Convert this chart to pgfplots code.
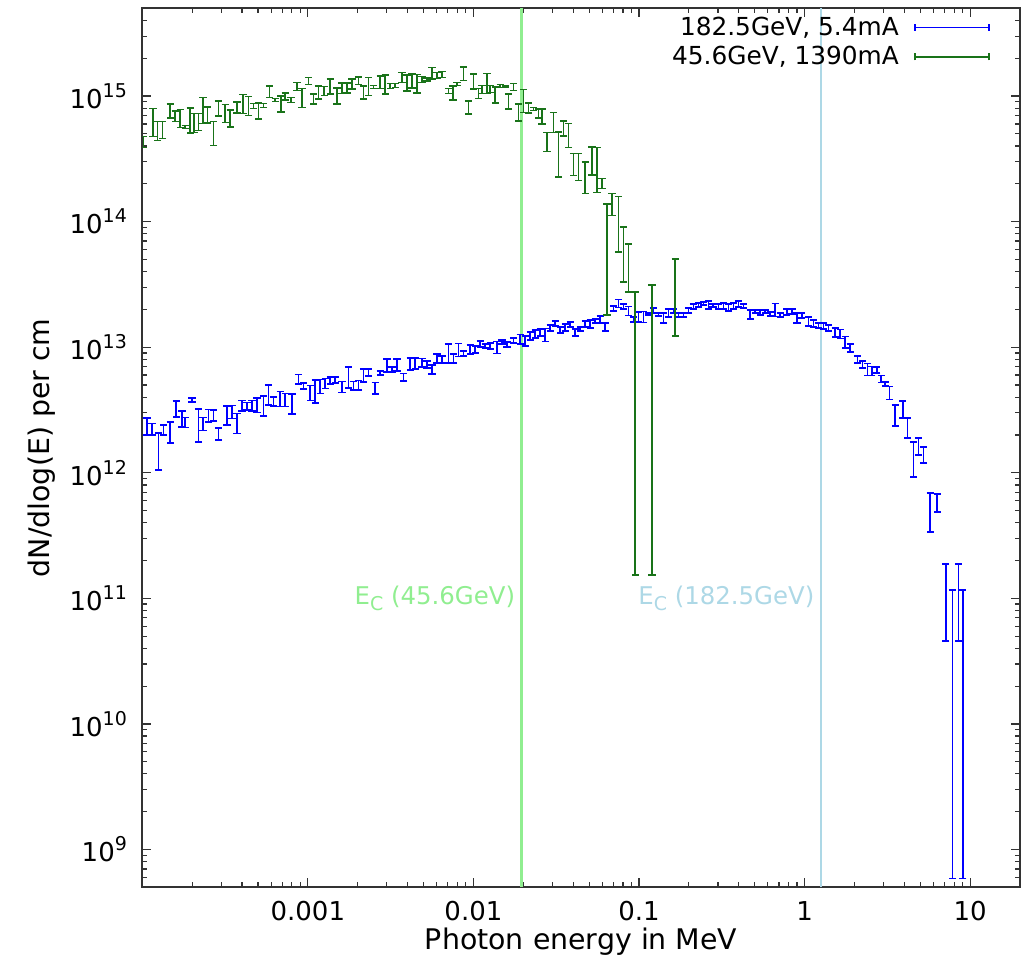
\documentclass[border=0pt]{standalone}
\usepackage{fontspec}
\setmainfont{DejaVu Sans}
\usepackage{pgfplots}
\pgfplotsset{compat=1.18}
\usepackage{pgfplotstable}
\definecolor{bluec}{RGB}{0,0,255}
\definecolor{greenc}{RGB}{25,115,25}
\definecolor{lgreen}{RGB}{144,238,144}
\definecolor{lblue}{RGB}{173,216,230}
\newcommand{\tp}[1]{10\raisebox{0.42em}{\fontsize{9.5}{9.5}\selectfont #1}}

\pgfplotstableread{
x y r
1.067e-4 2.36e12 0.154
1.144e-4 2.23e12 0.109
1.254e-4 1.56e12 0.326
1.345e-4 2.19e12 0.091
1.476e-4 2.13e12 0.190
1.604e-4 3.24e12 0.145
1.737e-4 2.71e12 0.145
1.818e-4 2.53e12 0.091
1.996e-4 3.79e12 0.037
2.188e-4 2.48e12 0.293
2.326e-4 2.46e12 0.118
2.514e-4 2.86e12 0.118
2.695e-4 2.86e12 0.100
2.889e-4 2.04e12 0.109
3.247e-4 2.90e12 0.172
3.481e-4 3.07e12 0.118
3.731e-4 2.51e12 0.181
4.000e-4 3.43e12 0.100
4.288e-4 3.39e12 0.073
4.597e-4 3.43e12 0.100
4.928e-4 3.49e12 0.136
5.401e-4 3.45e12 0.181
5.790e-4 4.22e12 0.181
6.207e-4 3.69e12 0.082
6.812e-4 3.90e12 0.136
7.304e-4 3.82e12 0.118
8.017e-4 3.61e12 0.181
8.787e-4 5.57e12 0.091
9.419e-4 4.90e12 0.055
1.034e-3 4.35e12 0.136
1.108e-3 4.52e12 0.208
1.188e-3 4.90e12 0.127
1.274e-3 5.17e12 0.091
1.366e-3 5.44e12 0.064
1.464e-3 5.49e12 0.055
1.606e-3 4.85e12 0.100
1.761e-3 5.82e12 0.190
1.888e-3 4.94e12 0.082
2.024e-3 4.99e12 0.091
2.170e-3 5.97e12 0.118
2.326e-3 6.29e12 0.064
2.553e-3 4.73e12 0.109
2.736e-3 6.22e12 0.037
3.004e-3 7.19e12 0.118
3.220e-3 6.63e12 0.046
3.451e-3 7.25e12 0.109
3.784e-3 5.77e12 0.073
4.153e-3 7.39e12 0.109
4.453e-3 7.45e12 0.100
4.887e-3 7.53e12 0.082
5.239e-3 7.30e12 0.064
5.616e-3 6.63e12 0.082
6.021e-3 8.12e12 0.082
6.454e-3 7.97e12 0.064
7.072e-3 9.03e12 0.172
7.582e-3 8.12e12 0.082
8.128e-3 9.57e12 0.118
8.713e-3 8.90e12 0.046
9.565e-3 9.57e12 0.082
1.025e-2 9.60e12 0.064
1.099e-2 1.058e13 0.055
1.178e-2 1.02e13 0.037
1.263e-2 1.02e13 0.055
1.387e-2 1.00e13 0.109
1.486e-2 1.098e13 0.037
1.594e-2 1.05e13 0.046
1.746e-2 1.13e13 0.046
1.917e-2 1.16e13 0.091
2.055e-2 1.12e13 0.091
2.203e-2 1.23e13 0.073
2.362e-2 1.27e13 0.073
2.532e-2 1.31e13 0.064
2.714e-2 1.26e13 0.118
2.910e-2 1.42e13 0.055
3.119e-2 1.54e13 0.046
3.344e-2 1.37e13 0.055
3.584e-2 1.43e13 0.064
3.842e-2 1.51e13 0.046
4.119e-2 1.31e13 0.064
4.415e-2 1.39e13 0.037
4.732e-2 1.53e13 0.055
5.073e-2 1.53e13 0.073
5.438e-2 1.61e13 0.037
5.830e-2 1.66e13 0.064
6.250e-2 1.45e13 0.073
7.015e-2 2.03e13 0.046
7.518e-2 2.24e13 0.073
8.060e-2 2.10e13 0.046
8.640e-2 1.95e13 0.082
9.264e-2 1.66e13 0.046
9.931e-2 1.74e13 0.091
0.1065 1.75e13 0.100
0.1141 1.83e13 0.018
0.1223 1.95e13 0.046
0.1312 1.82e13 0.027
0.1406 1.71e13 0.091
0.1507 1.87e13 0.073
0.1616 1.94e13 0.037
0.1732 1.80e13 0.037
0.1857 1.80e13 0.037
0.1991 1.95e13 0.046
0.2134 2.10e13 0.046
0.2288 2.17e13 0.037
0.2452 2.22e13 0.027
0.2629 2.17e13 0.073
0.2795 2.15e13 0.027
0.3021 2.10e13 0.046
0.3239 2.12e13 0.055
0.3472 2.07e13 0.064
0.3722 2.12e13 0.055
0.3990 2.20e13 0.055
0.4276 2.12e13 0.037
0.4694 1.82e13 0.082
0.5032 1.92e13 0.027
0.5394 1.88e13 0.046
0.5783 1.92e13 0.027
0.6199 1.83e13 0.037
0.6645 1.99e13 0.118
0.7124 1.80e13 0.037
0.7820 1.90e13 0.055
0.8383 1.92e13 0.046
0.8987 1.71e13 0.091
0.9632 1.78e13 0.046
1.056 1.60e13 0.082
1.132 1.54e13 0.064
1.213 1.49e13 0.046
1.301 1.47e13 0.055
1.394 1.42e13 0.055
1.530 1.31e13 0.082
1.641 1.28e13 0.082
1.759 1.10e13 0.109
1.885 9.84e12 0.073
2.087 7.97e12 0.064
2.237 7.27e12 0.064
2.398 6.69e12 0.109
2.549 6.50e12 0.082
2.733 6.56e12 0.055
2.901 5.60e12 0.064
3.067 5.08e12 0.037
3.257 4.35e12 0.118
3.525 2.91e12 0.190
3.923 3.22e12 0.154
4.182 2.31e12 0.181
4.546 1.34e12 0.310
4.874 1.64e12 0.154
5.224 1.40e12 0.145
5.735 5.15e11 0.342
6.320 5.83e11 0.163
7.135 1.17e11 0.607
7.818 5.87e10 0.990
8.499 1.17e11 0.607
9.035 5.87e10 0.990
}\bluedata

\pgfplotstableread{
x y r
1.018e-4 4.32e14 0.100
1.160e-4 6.37e14 0.251
1.237e-4 5.36e14 0.172
1.326e-4 5.43e14 0.154
1.476e-4 7.68e14 0.127
1.582e-4 6.95e14 0.100
1.696e-4 6.72e14 0.163
1.818e-4 5.68e14 0.027
1.949e-4 6.52e14 0.225
2.061e-4 6.20e14 0.172
2.188e-4 6.30e14 0.154
2.326e-4 7.90e14 0.234
2.479e-4 7.13e14 0.145
2.695e-4 5.16e14 0.216
2.889e-4 8.04e14 0.136
3.171e-4 7.37e14 0.163
3.400e-4 6.70e14 0.154
3.731e-4 8.19e14 0.100
4.056e-4 8.78e14 0.172
4.385e-4 8.47e14 0.172
4.700e-4 8.34e14 0.046
5.039e-4 7.68e14 0.145
5.401e-4 8.42e14 0.037
5.870e-4 1.09e15 0.109
6.355e-4 9.31e14 0.027
6.881e-4 8.73e14 0.145
7.304e-4 1.00e15 0.064
7.906e-4 9.31e14 0.046
8.595e-4 1.195e15 0.073
9.213e-4 9.80e14 0.172
1.0098e-3 1.32e15 0.064
1.082e-3 9.57e14 0.091
1.160e-3 1.08e15 0.118
1.256e-3 1.10e15 0.082
1.366e-3 1.205e15 0.136
1.498e-3 1.013e15 0.145
1.606e-3 1.162e15 0.100
1.722e-3 1.17e15 0.091
1.846e-3 1.26e15 0.091
2.024e-3 1.33e15 0.073
2.170e-3 1.08e15 0.118
2.326e-3 1.21e15 0.163
2.493e-3 1.18e15 0.027
2.736e-3 1.30e15 0.118
2.934e-3 1.25e15 0.172
3.145e-3 1.205e15 0.046
3.372e-3 1.215e15 0.037
3.700e-3 1.41e15 0.091
3.967e-3 1.285e15 0.145
4.252e-3 1.33e15 0.127
4.558e-3 1.27e15 0.172
4.887e-3 1.36e15 0.055
5.239e-3 1.35e15 0.027
5.616e-3 1.52e15 0.109
6.021e-3 1.46e15 0.055
6.454e-3 1.49e15 0.055
7.072e-3 1.10e15 0.046
7.518e-3 1.07e15 0.127
7.948e-3 1.25e15 0.027
8.713e-3 1.52e15 0.127
9.341e-3 8.19e14 0.118
1.0014e-2 1.32e15 0.136
1.074e-2 1.05e15 0.091
1.125e-2 1.13e15 0.073
1.206e-2 1.28e15 0.181
1.263e-2 1.14e15 0.064
1.354e-2 1.03e15 0.145
1.452e-2 1.205e15 0.027
1.556e-2 1.195e15 0.018
1.629e-2 9.15e14 0.136
1.746e-2 1.18e15 0.064
1.872e-2 7.47e14 0.154
2.007e-2 9.35e14 0.208
2.151e-2 8.11e14 0.091
2.307e-2 7.89e14 0.027
2.473e-2 7.33e14 0.082
2.593e-2 6.95e14 0.136
2.780e-2 4.38e14 0.172
3.045e-2 6.27e14 0.181
3.265e-2 3.70e14 0.390
3.500e-2 5.58e14 0.136
3.752e-2 4.97e14 0.216
4.022e-2 2.91e14 0.199
4.312e-2 2.81e14 0.243
4.732e-2 2.32e14 0.279
5.196e-2 3.13e14 0.251
5.570e-2 2.80e14 0.390
5.970e-2 2.02e14 0.091
6.400e-2 7.78e13 0.768
6.861e-2 1.40e14 0.199
7.518e-2 1.08e14 0.471
8.060e-2 6.17e13 0.465
8.640e-2 4.69e13 0.413
9.486e-2 1.383e13 0.9889
0.1197 1.572e13 0.9902
0.1654 3.13e13 0.608
}\greendata

\begin{document}
\begin{tikzpicture}
\begin{axis}[
  scale only axis,
  width=438.85pt, height=439.5pt,
  xmode=log, ymode=log,
  xmin=1e-4, xmax=20, ymin=5e8, ymax=5e15,
  xtick={0.001,0.01,0.1,1,10},
  xticklabels={0.001,0.01,0.1,1,10},
  ytick={1e9,1e10,1e11,1e12,1e13,1e14,1e15},
  yticklabels={\tp{9},\tp{10},\tp{11},\tp{12},\tp{13},\tp{14},\tp{15}},
  minor xtick={2e-4,3e-4,4e-4,5e-4,6e-4,7e-4,8e-4,9e-4,2e-3,3e-3,4e-3,5e-3,6e-3,7e-3,8e-3,9e-3,0.02,0.03,0.04,0.05,0.06,0.07,0.08,0.09,0.2,0.3,0.4,0.5,0.6,0.7,0.8,0.9,2,3,4,5,6,7,8,9},
  minor ytick={6e8,7e8,8e8,9e8,2e9,3e9,4e9,5e9,6e9,7e9,8e9,9e9,2e10,3e10,4e10,5e10,6e10,7e10,8e10,9e10,2e11,3e11,4e11,5e11,6e11,7e11,8e11,9e11,2e12,3e12,4e12,5e12,6e12,7e12,8e12,9e12,2e13,3e13,4e13,5e13,6e13,7e13,8e13,9e13,2e14,3e14,4e14,5e14,6e14,7e14,8e14,9e14,2e15,3e15,4e15},
  tick align=inside,
  major tick length=4.5pt, minor tick length=2.5pt,
  every tick/.style={black!80, line width=0.6pt},
  axis line style={black!80, line width=0.9pt},
  tick label style={font=\fontsize{13}{13}\selectfont},
  xticklabel style={anchor=north, inner sep=0pt, yshift=-7pt},
  yticklabel style={anchor=east, inner sep=0pt, xshift=-7.5pt},
  xlabel={Photon energy in MeV},
  ylabel={dN/dlog(E) per cm},
  label style={font=\fontsize{14.2}{15}\selectfont},
  xlabel style={at={(axis description cs:0.5,0)}, anchor=base, yshift=-31pt},
  ylabel style={at={(axis description cs:-0.1062,0.5)}, anchor=base},
  legend style={draw=none, fill=none, at={(axis description cs:1,1)}, anchor=north east, xshift=-12pt, yshift=0pt, font=\fontsize{12.4}{13}\selectfont, row sep=0pt, /tikz/every even column/.append style={column sep=6pt}},
  legend cell align=right,
  legend plot pos=right,
]
\addplot[lgreen, line width=1.3pt, forget plot] coordinates {(0.0195,5e8) (0.0195,5e15)};
\addplot[lblue, line width=1.3pt, forget plot] coordinates {(1.253,5e8) (1.253,5e15)};

\addplot[color=bluec, mark=none, draw=none,
  legend image code/.code={\path (0pt,0pt); \draw[bluec, line width=0.8pt] (6pt,0pt) -- (43pt,0pt) (6pt,-1.75pt) -- (6pt,1.75pt) (43pt,-1.75pt) -- (43pt,1.75pt);},
  error bars/.cd, y dir=both, y explicit relative,
  error bar style={draw=bluec, line width=0.85pt},
  error mark options={rotate=90, mark size=1.8pt, line width=0.85pt, draw=bluec}]
  table[x=x, y=y, y error=r] {\bluedata};
\addlegendentry{182.5GeV, 5.4mA}

\addplot[color=greenc, mark=none, draw=none,
  legend image code/.code={\path (0pt,0pt); \draw[greenc, line width=0.8pt] (6pt,0pt) -- (43pt,0pt) (6pt,-1.75pt) -- (6pt,1.75pt) (43pt,-1.75pt) -- (43pt,1.75pt);},
  error bars/.cd, y dir=both, y explicit relative,
  error bar style={draw=greenc, line width=0.85pt},
  error mark options={rotate=90, mark size=1.8pt, line width=0.85pt, draw=greenc}]
  table[x=x, y=y, y error=r] {\greendata};
\addlegendentry{45.6GeV, 1390mA}

\node[anchor=east, inner sep=0pt, xshift=-3pt, text=lgreen, font=\fontsize{12.2}{13}\selectfont] at (axis cs:0.0195,1e11) {E\raisebox{-0.28em}{\fontsize{9.5}{9.5}\selectfont C} (45.6GeV)};
\node[anchor=east, inner sep=0pt, xshift=-3pt, text=lblue, font=\fontsize{12.2}{13}\selectfont] at (axis cs:1.253,1e11) {E\raisebox{-0.28em}{\fontsize{9.5}{9.5}\selectfont C} (182.5GeV)};
\end{axis}
\pgfresetboundingbox
\path (-71.15pt,-33.35pt) rectangle (442.85pt,443.65pt);
\end{tikzpicture}
\end{document}
